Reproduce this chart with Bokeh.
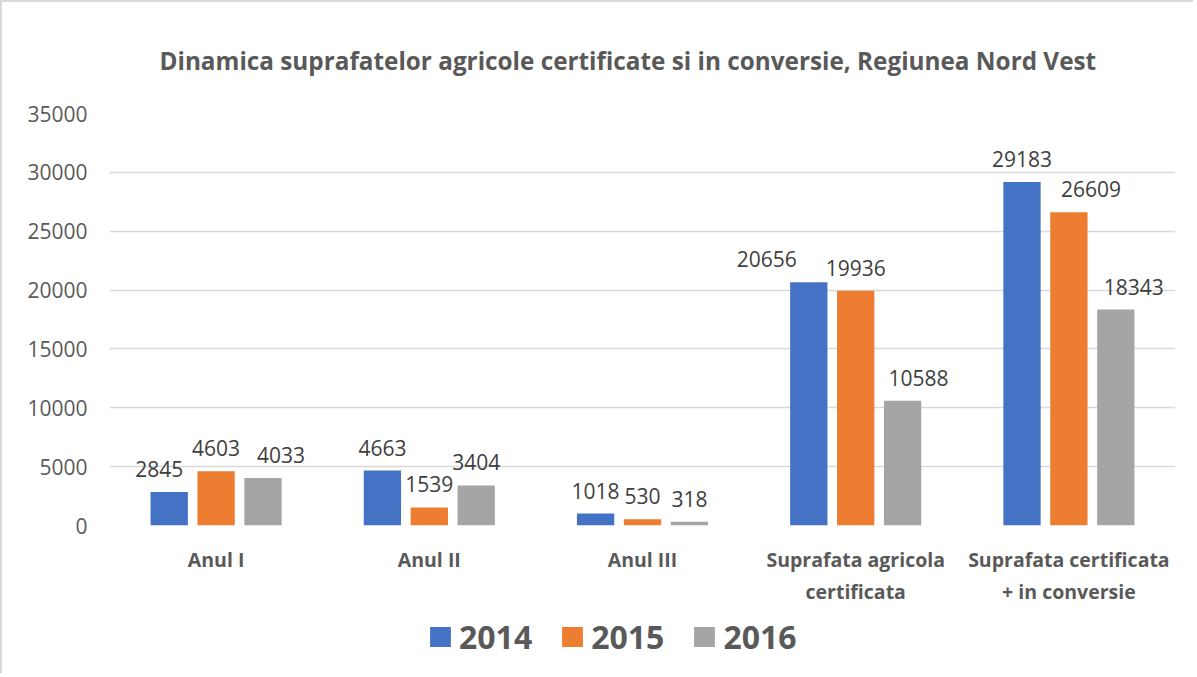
from bokeh.plotting import figure
from bokeh.layouts import column
from bokeh.models import (ColumnDataSource, FactorRange, LabelSet, Legend, LegendItem,
                          FixedTicker, NumeralTickFormatter)
from bokeh.core.properties import value
from bokeh.transform import dodge
from bokeh.embed import file_html
from bokeh.resources import INLINE

categories = ["Anul I", "Anul II", "Anul III",
              "Suprafata agricola\ncertificata",
              "Suprafata certificata\n+ in conversie"]
years = ["2014", "2015", "2016"]
v2014 = [2845, 4663, 1018, 20656, 29183]
v2015 = [4603, 1539, 530, 19936, 26609]
v2016 = [4033, 3404, 318, 10588, 18343]
y_ticks = [0, 5000, 10000, 15000, 20000, 25000, 30000, 35000]

# horizontal nudges (px) of value labels, as the source spreads overlapping labels apart
nudge2014 = [-10, 0, 0, -42, 0]
nudge2015 = [0, 0, 0, 0, 22]
nudge2016 = [18, 0, 0, 16, 18]

colors = ["#4472C4", "#ED7D31", "#A5A5A5"]
FONT = "Open Sans"
TXT = "#595959"
BORDER = "2px solid #D9D9D9"

src = ColumnDataSource(dict(cat=categories, y2014=v2014, y2015=v2015, y2016=v2016,
                            l2014=[str(v) for v in v2014],
                            l2015=[str(v) for v in v2015],
                            l2016=[str(v) for v in v2016],
                            n2014=nudge2014, n2015=nudge2015, n2016=nudge2016))

p = figure(x_range=FactorRange(*categories), y_range=(0, 35000),
           width=1193, height=610, output_backend="svg", toolbar_location=None,
           min_border_left=107, min_border_right=20, min_border_top=111,
           min_border_bottom=87)

p.title.text = "Dinamica suprafatelor agricole certificate si in conversie, Regiunea Nord Vest"
p.title.align = "left"
p.title.offset = 50
p.title.text_font = FONT
p.title.text_font_size = "24.3px"
p.title.text_font_style = "bold"
p.title.text_color = TXT
p.title.standoff = 73

offsets = [-0.22, 0.0, 0.22]
for yr, off, col in zip(years, offsets, colors):
    p.vbar(x=dodge("cat", off, range=p.x_range), top="y" + yr, width=0.175,
           source=src, fill_color=col, line_color=None)
    lbl = LabelSet(x=dodge("cat", off, range=p.x_range), y="y" + yr, text="l" + yr,
                   source=src, text_align="center", text_baseline="alphabetic",
                   x_offset="n" + yr, y_offset=15, text_font=value(FONT),
                   text_font_size="21px", text_color="#404040")
    p.add_layout(lbl)

p.yaxis.ticker = FixedTicker(ticks=y_ticks)
p.yaxis.formatter = NumeralTickFormatter(format="0")
for ax in (p.xaxis, p.yaxis):
    ax.axis_line_color = None
    ax.major_tick_line_color = None
    ax.minor_tick_line_color = None
    ax.major_tick_out = 0
    ax.major_tick_in = 0
p.yaxis.major_label_text_font = FONT
p.yaxis.major_label_text_font_size = "21px"
p.yaxis.major_label_text_color = TXT
p.yaxis.major_label_standoff = 22
p.xaxis.major_label_text_font = FONT
p.xaxis.major_label_text_font_size = "19.5px"
p.xaxis.major_label_text_font_style = "bold"
p.xaxis.major_label_text_color = TXT
p.xaxis.major_label_standoff = 20

p.xgrid.grid_line_color = None
p.ygrid.grid_line_color = "#D9D9D9"
p.ygrid.grid_line_width = 1.5
p.outline_line_color = None
p.styles = {"border-left": BORDER, "border-top": BORDER}

# legend strip below the chart
pleg = figure(width=1193, height=63, x_range=(0, 1), y_range=(0, 1),
              output_backend="svg", toolbar_location=None,
              x_axis_location=None, y_axis_location=None,
              min_border_left=0, min_border_right=0, min_border_top=0, min_border_bottom=0)
pleg.xgrid.grid_line_color = None
pleg.ygrid.grid_line_color = None
pleg.outline_line_color = None
pleg.styles = {"border-left": BORDER}

leg_renderers = [pleg.vbar(x=[-10], top=[-10], width=1, fill_color=col, line_color=None)
                 for col in colors]
legend = Legend(items=[LegendItem(label=yr, renderers=[r]) for yr, r in zip(years, leg_renderers)],
                orientation="horizontal", location=(318, 15),
                glyph_width=26, glyph_height=25, label_standoff=6, spacing=27,
                padding=0, margin=0, border_line_color=None, background_fill_alpha=0,
                label_text_font=FONT, label_text_font_size="32px",
                label_text_font_style="bold", label_text_color=TXT)
pleg.add_layout(legend, "center")

layout = column(p, pleg, spacing=0)

open("out.html", "w").write(file_html(layout, INLINE))
